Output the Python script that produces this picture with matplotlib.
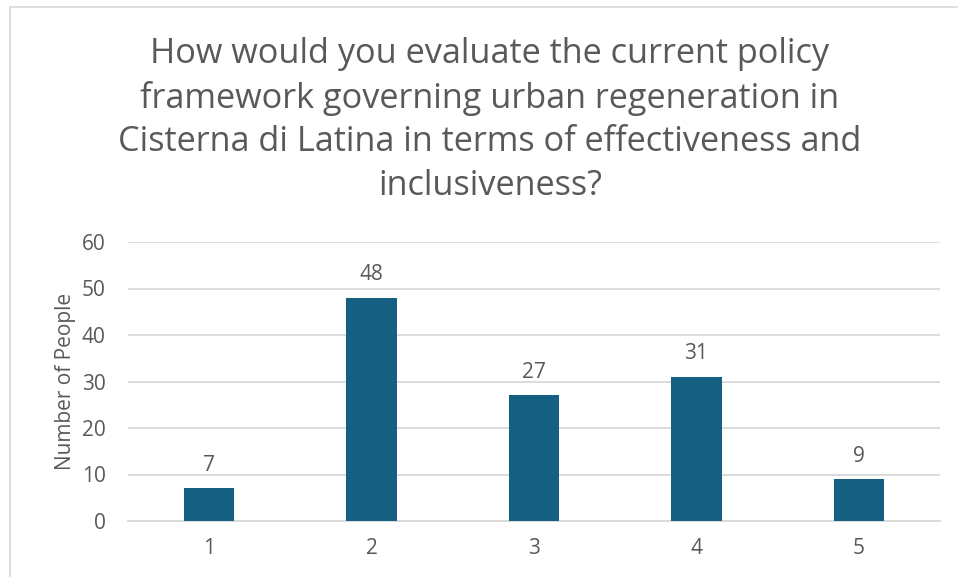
import matplotlib
matplotlib.use("Agg")
import matplotlib.pyplot as plt
from matplotlib.lines import Line2D

categories = ["1", "2", "3", "4", "5"]
values = [7, 48, 27, 31, 9]
yticks = [0, 10, 20, 30, 40, 50, 60]

title = ("How would you evaluate the current policy\n"
         "framework governing urban regeneration in\n"
         "Cisterna di Latina in terms of effectiveness and\n"
         "inclusiveness?")

plt.rcParams['font.family'] = ['Open Sans', 'DejaVu Sans']
txt = '#595959'
bar_c = '#156082'
grid_c = '#d9d9d9'

W, H = 958, 577
fig = plt.figure(figsize=(W/100, H/100), dpi=100)
ax = fig.add_axes([128/W, 1-521/H, (940-128)/W, (521-242)/H])

x = list(range(len(categories)))
bars = ax.bar(x, values, width=0.31, color=bar_c, zorder=3)
ax.set_xlim(-0.5, len(categories)-0.5)
ax.set_ylim(0, 60)
ax.set_yticks(yticks)
ax.set_xticks(x)
ax.set_xticklabels(categories)
ax.grid(axis='y', color=grid_c, linewidth=1.3, zorder=0)
for s in ['top', 'right', 'left']:
    ax.spines[s].set_visible(False)
ax.spines['bottom'].set_color(grid_c)
ax.spines['bottom'].set_linewidth(1.3)
ax.tick_params(axis='both', length=0, labelsize=15, colors=txt)
ax.tick_params(axis='x', pad=12)
ax.tick_params(axis='y', pad=16)
ax.set_ylabel("Number of People", fontsize=15, color=txt, labelpad=4)
for xi, v in zip(x, values):
    ax.annotate(str(v), (xi, v), xytext=(0, 9), textcoords='offset points',
                ha='center', va='bottom', fontsize=15, color=txt)

fig.text(490/W, 1-120/H, title, ha='center', va='center', fontsize=24.7,
         color=txt, linespacing=1.37)

# outer border
fig.add_artist(Line2D([10/W, 10/W], [0, 1-7/H], color='#d9d9d9', lw=1.2, transform=fig.transFigure))
fig.add_artist(Line2D([10/W, 1], [1-7/H, 1-7/H], color='#d9d9d9', lw=1.2, transform=fig.transFigure))

fig.savefig("out.png", dpi=100)
